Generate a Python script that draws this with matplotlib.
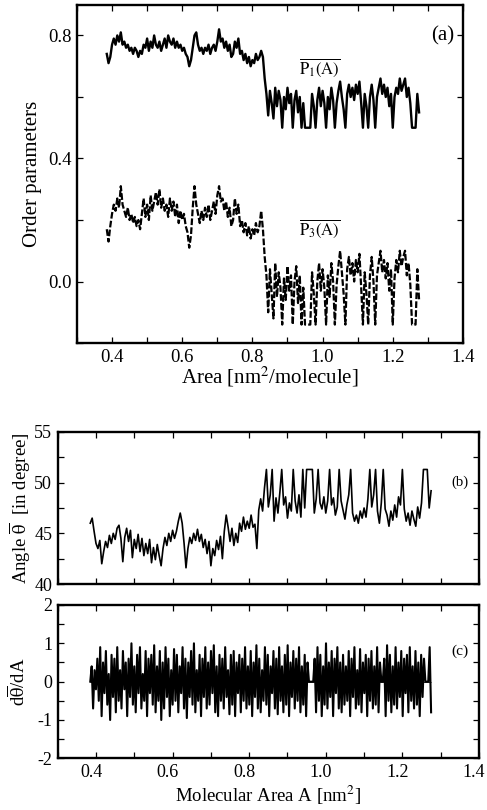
import numpy as np
import matplotlib
matplotlib.use("Agg")
import matplotlib.pyplot as plt
import matplotlib.transforms as mtransforms
from matplotlib.ticker import MultipleLocator, FormatStrFormatter

plt.rcParams['font.family'] = ['Liberation Serif', 'DejaVu Serif']
plt.rcParams['mathtext.fontset'] = 'stix'
plt.rcParams['axes.unicode_minus'] = False

# (a) order parameters, sampled every 0.005 nm^2 from 0.385
p1 = [0.74, 0.71, 0.73, 0.77, 0.79, 0.77, 0.80, 0.78, 0.81, 0.77, 0.78, 0.76, 0.77, 0.75, 0.76, 0.74, 0.76, 0.75, 0.73, 0.75,
      0.74, 0.77, 0.76, 0.79, 0.75, 0.78, 0.76, 0.80, 0.77, 0.76, 0.78, 0.75, 0.77, 0.79, 0.76, 0.80, 0.78, 0.77, 0.79, 0.76,
      0.78, 0.76, 0.77, 0.75, 0.76, 0.74, 0.73, 0.70, 0.72, 0.76, 0.80, 0.81, 0.77, 0.75, 0.76, 0.74, 0.76, 0.75, 0.77, 0.74,
      0.76, 0.77, 0.75, 0.78, 0.82, 0.78, 0.79, 0.76, 0.78, 0.75, 0.77, 0.73, 0.74, 0.78, 0.76, 0.79, 0.74, 0.75, 0.72, 0.74,
      0.71, 0.73, 0.70, 0.72, 0.71, 0.74, 0.72, 0.73, 0.75, 0.73, 0.66, 0.61, 0.54, 0.62, 0.58, 0.53, 0.63, 0.57, 0.62, 0.59,
      0.50, 0.60, 0.56, 0.63, 0.58, 0.61, 0.50, 0.59, 0.62, 0.55, 0.60, 0.50, 0.58, 0.50, 0.50, 0.50, 0.50, 0.61, 0.57, 0.50,
      0.59, 0.63, 0.57, 0.62, 0.58, 0.50, 0.60, 0.56, 0.63, 0.59, 0.50, 0.58, 0.62, 0.65, 0.60, 0.56, 0.50, 0.61, 0.64, 0.60,
      0.63, 0.59, 0.64, 0.61, 0.65, 0.58, 0.50, 0.61, 0.57, 0.50, 0.60, 0.64, 0.59, 0.50, 0.60, 0.63, 0.66, 0.61, 0.64, 0.60,
      0.63, 0.57, 0.61, 0.50, 0.60, 0.63, 0.61, 0.66, 0.62, 0.64, 0.66, 0.60, 0.63, 0.58, 0.50, 0.50, 0.50, 0.61, 0.55]
p3 = [0.17, 0.13, 0.18, 0.22, 0.25, 0.23, 0.27, 0.24, 0.31, 0.25, 0.23, 0.21, 0.24, 0.20, 0.22, 0.19, 0.21, 0.18, 0.20, 0.17,
      0.22, 0.27, 0.21, 0.25, 0.20, 0.28, 0.23, 0.26, 0.29, 0.25, 0.30, 0.24, 0.27, 0.23, 0.25, 0.21, 0.27, 0.23, 0.26, 0.21,
      0.25, 0.19, 0.23, 0.20, 0.22, 0.18, 0.16, 0.11, 0.15, 0.24, 0.31, 0.25, 0.22, 0.19, 0.23, 0.20, 0.24, 0.21, 0.25, 0.20,
      0.23, 0.26, 0.22, 0.28, 0.31, 0.26, 0.27, 0.23, 0.26, 0.21, 0.24, 0.18, 0.20, 0.27, 0.22, 0.25, 0.18, 0.20, 0.16, 0.19,
      0.15, 0.18, 0.14, 0.17, 0.15, 0.19, 0.16, 0.18, 0.23, 0.17, 0.08, 0.02, -0.10, 0.04, -0.04, -0.12, 0.06, -0.05, 0.03, -0.02,
      -0.14, 0.01, -0.06, 0.05, -0.03, 0.02, -0.14, 0.00, 0.05, -0.07, 0.02, -0.14, -0.02, -0.14, -0.14, -0.14, -0.14, 0.03, -0.04, -0.14,
      0.00, 0.06, -0.03, 0.04, -0.02, -0.14, 0.02, -0.05, 0.06, 0.00, -0.14, -0.01, 0.05, 0.10, 0.03, -0.04, -0.14, 0.04, 0.08, 0.02,
      0.06, 0.00, 0.07, 0.03, 0.09, -0.02, -0.14, 0.03, -0.04, -0.14, 0.02, 0.08, 0.00, -0.14, 0.02, 0.06, 0.10, 0.03, 0.07, 0.01,
      0.06, -0.03, 0.04, -0.14, 0.01, 0.07, 0.03, 0.10, 0.05, 0.08, 0.10, 0.02, 0.06, -0.01, -0.14, -0.14, -0.14, 0.04, -0.06]

# (b) mean tilt angle, same sampling
theta = [46.0, 46.5, 45.2, 44.0, 43.5, 44.3, 42.0, 43.2, 44.2, 43.6, 44.8, 44.0, 45.0, 44.4, 45.5, 45.8, 44.5, 42.2, 44.6, 45.5,
         44.2, 45.3, 42.6, 44.4, 43.5, 44.9, 43.2, 44.5, 42.8, 44.0, 43.0, 44.4, 42.1, 43.6, 42.4, 43.9, 42.8, 41.8, 43.5, 44.6,
         43.8, 45.0, 44.2, 45.3, 44.5, 45.2, 46.2, 47.0, 46.0, 44.0, 41.6, 43.5, 44.6, 44.0, 45.0, 44.3, 45.4, 44.2, 44.9, 43.6,
         44.4, 43.0, 44.2, 41.8, 43.5, 42.8, 44.3, 43.4, 44.7, 42.5, 45.2, 46.8, 45.6, 44.2, 45.5, 43.8, 45.0, 44.1, 46.0, 45.2,
         46.6, 45.4, 46.2, 45.5, 46.8, 45.6, 45.9, 43.5, 47.3, 48.4, 47.2, 49.5, 51.3, 47.6, 48.8, 51.3, 46.2, 48.5, 47.0, 49.0,
         51.3, 47.8, 48.6, 46.5, 48.0, 47.2, 51.3, 48.2, 47.0, 48.8, 46.6, 51.3, 47.5, 51.3, 51.3, 51.3, 51.3, 47.0, 48.4, 51.3,
         48.0, 47.4, 48.6, 47.0, 48.2, 51.3, 47.8, 48.5, 46.8, 47.6, 51.3, 48.2, 47.3, 46.4, 47.8, 48.8, 51.3, 47.0, 46.2, 46.8,
         46.0, 47.2, 46.5, 47.5, 46.6, 48.4, 51.3, 47.6, 48.8, 51.3, 47.2, 46.0, 48.0, 51.3, 47.4, 46.8, 45.7, 47.2, 46.3, 47.8,
         46.6, 48.6, 47.8, 51.3, 47.4, 46.2, 47.0, 45.8, 47.2, 46.4, 45.7, 47.6, 46.5, 48.0, 51.3, 51.3, 51.3, 47.5, 49.2]

# (c) derivative of the angle
dtheta = [0.0, 0.4, -0.7, 0.3, -0.2, 0.6, -0.5, 0.9, -0.9, 0.5, -0.3, 0.8, -0.6, 0.2, -1.0, 0.7, -0.4, 0.6, -0.8, 0.9,
          -0.5, 0.3, -0.7, 0.8, -0.2, 0.5, -0.9, 0.6, -0.4, 1.0, -0.6, 0.4, -0.8, 0.7, -0.3, 0.9, -0.7, 0.2, -0.5, 0.8,
          -0.9, 0.6, -0.3, 0.7, -0.6, 0.95, -0.8, 0.4, -0.5, 0.8, -1.0, 0.5, -0.7, 0.9, -0.4, 0.6, -0.9, 0.3, -0.6, 0.85,
          -0.5, 0.7, -0.8, 0.4, -0.3, 0.9, -0.7, 0.6, -0.95, 0.5, -0.4, 0.8, -0.6, 1.0, -0.8, 0.3, -0.5, 0.7, -0.9, 0.6,
          -0.4, 0.9, -0.7, 0.5, -0.6, 0.8, -0.3, 0.95, -0.8, 0.4, -0.9, 0.7, -0.5, 0.6, -0.7, 0.9, -0.4, 0.3, -0.85, 0.7,
          -0.6, 0.8, -0.9, 0.5, -0.3, 0.7, -0.8, 0.6, -0.5, 0.9, -0.7, 0.4, -0.6, 0.8, -0.9, 0.5, -0.4, 0.95, -0.7, 0.6,
          -0.8, 0.3, -0.5, 0.9, -0.6, 0.7, -0.9, 0.4, -0.3, 0.8, -0.7, 0.6, -0.85, 0.9, -0.5, 0.4, -0.8, 0.7, -0.6, 0.95,
          -0.9, 0.5, -0.4, 0.8, -0.7, 0.6, -0.5, 0.9, -0.8, 0.4, -0.6, 0.7, -0.9, 0.5, 0.0, 0.0, 0.0, 0.0, 0.6, -0.8,
          0.9, -0.5, 0.7, -0.9, 0.4, -0.6, 1.0, -0.7, 0.5, -0.4, 0.8, -0.9, 0.6, -0.3, 0.9, -0.7, 0.5, -0.8, 0.7, -0.6,
          0.4, -0.5, 0.8, -0.9, 0.6, -0.4, 0.9, -0.7, 0.3, -0.6, 0.85, -0.8, 0.5, -0.3, 0.7, -0.9, 0.6, -0.5, 0.8, -0.7,
          0.4, -0.6, 0.9, -0.8, 0.5, 0.0, 0.0, 0.6, -0.9, 0.95, -0.5, 0.7, -0.8, 0.4, -0.6, 0.9, -0.7, 0.5, -0.4, 0.8,
          -0.9, 0.6, -0.3, 0.7, -0.8, 0.9, -0.5, 0.4, -0.7, 0.8, -0.6, 0.5, -0.9, 0.7, -0.4, 0.6, 0.0, 0.0, 0.0, 0.9, -0.8]

area_a = np.linspace(0.385, 1.275, len(p1))
area_b = np.linspace(0.385, 1.275, len(theta))
area_c = np.linspace(0.385, 1.275, len(dtheta))


def style(ax, xmaj, ymaj, ymin, fs, pad):
    ax.xaxis.set_major_locator(MultipleLocator(xmaj))
    ax.xaxis.set_minor_locator(MultipleLocator(0.1))
    ax.yaxis.set_major_locator(MultipleLocator(ymaj))
    ax.yaxis.set_minor_locator(MultipleLocator(ymin))
    ax.tick_params(which='both', direction='in', top=True, right=True,
                   length=4, width=0.9, labelsize=fs, pad=pad)
    for s in ax.spines.values():
        s.set_linewidth(1.7)


fig = plt.figure(figsize=(4.87, 8.10), dpi=100)

ax1 = fig.add_axes([0.158, 0.5765, 0.7926, 0.4177])
ax1.plot(area_a, p1, color='black', lw=1.7)
ax1.plot(area_a, p3, color='black', lw=1.6, linestyle=(0, (3.0, 1.0)))
ax1.set_xlim(0.3, 1.4)
ax1.set_ylim(-0.2, 0.9)
style(ax1, 0.2, 0.4, 0.2, 13.5, 4)
ax1.yaxis.set_major_formatter(FormatStrFormatter('%.1f'))
ax1.xaxis.set_major_formatter(FormatStrFormatter('%.1f'))
ax1.set_ylabel('Order parameters', fontsize=15)
ax1.set_xlabel('Area [nm$^2$/molecule]', fontsize=15, labelpad=-1)
ax1.text(1.342, 0.8, '(a)', fontsize=15, ha='center', va='center')
ax1.text(0.991, 0.695, r'$\overline{\mathrm{P}_{1}\mathrm{(A)}}$', fontsize=12, ha='center', va='center')
ax1.text(0.991, 0.17, r'$\overline{\mathrm{P}_{3}\mathrm{(A)}}$', fontsize=12, ha='center', va='center')

ax2 = fig.add_axes([0.1185, 0.279, 0.865, 0.1877])
ax2.plot(area_b, theta, color='black', lw=1.2)
ax2.set_xlim(0.3, 1.4)
ax2.set_ylim(40, 55)
style(ax2, 0.2, 5, 2.5, 13, 4)
ax2.tick_params(labelbottom=False)
ax2.set_ylabel(r'Angle $\overline{\mathrm{θ}}$  [in degree]', fontsize=13.5, labelpad=1)
ax2.text(1.35, 50, '(b)', fontsize=10.5, ha='center', va='center')

ax3 = fig.add_axes([0.1185, 0.0638, 0.865, 0.1893])
ax3.plot(area_c, dtheta, color='black', lw=1.5)
ax3.hlines(0, area_c[0], area_c[-1], color='black', lw=0.6)
ax3.set_xlim(0.3, 1.4)
ax3.set_ylim(-2, 2)
style(ax3, 0.2, 1, 0.5, 13, 4)
ax3.xaxis.set_major_formatter(FormatStrFormatter('%.1f'))
# the printed labels sit slightly left of their ticks
shift = mtransforms.ScaledTranslation(-5 / 100, 0, fig.dpi_scale_trans)
for lab in ax3.get_xticklabels():
    lab.set_transform(lab.get_transform() + shift)
ax3.set_ylabel(r'd$\overline{\mathrm{θ}}$/dA', fontsize=13.5, labelpad=6)
ax3.set_xlabel('Molecular Area A [nm$^2$]', fontsize=13.5, labelpad=2)
ax3.text(1.35, 0.8, '(c)', fontsize=11, ha='center', va='center')

fig.savefig('out.png', dpi=100)
